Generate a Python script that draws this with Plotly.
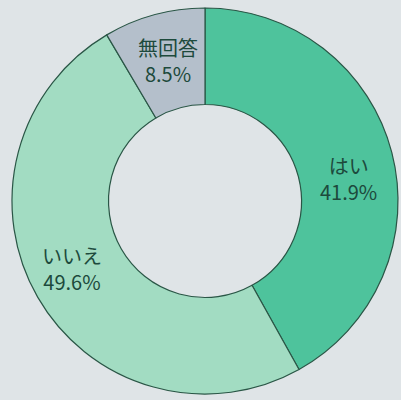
import plotly.graph_objects as go

labels = ["はい", "いいえ", "無回答"]
values = [41.9, 49.6, 8.5]
colors = ["#4ec39c", "#a2dcc2", "#b4bfcb"]

# label block centres in pixels (x from left, y from top)
label_px = [(348, 178), (72, 268), (168, 60)]

W, H = 401, 400

fig = go.Figure()

fig.add_trace(go.Pie(
    labels=labels,
    values=values,
    sort=False,
    direction="clockwise",
    rotation=0,
    hole=0.5,
    marker=dict(colors=colors, line=dict(color="#2a5646", width=1.2)),
    textinfo="none",
    domain=dict(x=[12 / W, 398 / W], y=[1 - 397 / H, 1 - 5 / H]),
    showlegend=False,
    hoverinfo="label+percent",
))

for lab, val, (px, py) in zip(labels, values, label_px):
    fig.add_annotation(
        x=px / W, y=1 - py / H, xref="paper", yref="paper",
        text=f"{lab}<br>{val:.1f}%",
        showarrow=False, xanchor="center", yanchor="middle",
        font=dict(family="Noto Sans CJK JP", size=20, color="#1d4a3c"),
    )

fig.update_layout(
    width=W,
    height=H,
    margin=dict(l=0, r=0, t=0, b=0),
    paper_bgcolor="#dfe4e7",
    plot_bgcolor="#dfe4e7",
)

fig.write_html(
    "out.html",
    config={"displayModeBar": False},
    post_script="document.body.style.margin='0';"
                "document.body.style.background='#dfe4e7';",
)
